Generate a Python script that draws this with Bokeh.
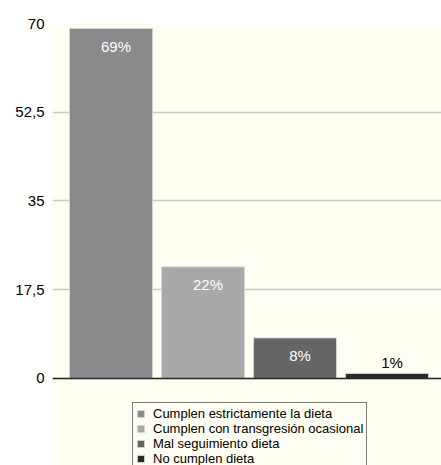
from bokeh.plotting import figure
from bokeh.models import ColumnDataSource, FixedTicker, Span, Legend, LegendItem, Range1d
from bokeh.core.properties import value
from bokeh.embed import file_html
from bokeh.resources import INLINE

categories = ["Cumplen estrictamente la dieta", "Cumplen con transgresión ocasional",
              "Mal seguimiento dieta", "No cumplen dieta"]
values = [69, 22, 8, 1]
labels = ["69%", "22%", "8%", "1%"]
colors = ["#8a8a8c", "#a9a9a9", "#656565", "#2a2a2a"]
tick_values = [0, 17.5, 35, 52.5, 70]
tick_labels = ["0", "17,5", "35", "52,5", "70"]

FONT = "Liberation Sans"
CREAM = "#fffef2"

xs = list(range(len(values)))
label_colors = ["white" if v > 5 else "black" for v in values]
label_offsets = [18 if v > 5 else -11 for v in values]

src = ColumnDataSource(dict(x=xs, top=values, color=colors, label=labels,
                            lc=label_colors, yo=label_offsets))

p = figure(width=441, height=465, output_backend="svg", toolbar_location=None,
           x_range=Range1d(-0.636, 3.592), y_range=Range1d(-17.16, 70),
           min_border_left=52, min_border_right=0, min_border_top=23, min_border_bottom=0,
           background_fill_color=CREAM, border_fill_color="white", outline_line_color=None)

p.xaxis.visible = False
p.xgrid.visible = False
p.yaxis.ticker = FixedTicker(ticks=tick_values)
p.yaxis.major_label_overrides = {t: l for t, l in zip(tick_values, tick_labels)}
p.yaxis.axis_line_color = None
p.yaxis.major_tick_line_color = None
p.yaxis.minor_tick_line_color = None
p.yaxis.major_tick_out = 0
p.yaxis.major_tick_in = 0
p.yaxis.major_label_standoff = 8
p.yaxis.major_label_text_font = FONT
p.yaxis.major_label_text_font_size = "15px"
p.yaxis.major_label_text_color = "black"
p.ygrid.grid_line_color = "#c8c8c4"
p.ygrid.grid_line_width = 1.5

r = p.vbar(x="x", top="top", bottom=0, width=0.902, fill_color="color",
           line_color="#d4d4d0", line_width=1, source=src)

p.add_layout(Span(location=0, dimension="width", line_color="#2a2a2a", line_width=1.5))

p.text(x="x", y="top", text="label", text_color="lc", y_offset="yo", x_offset=5,
       text_align="center", text_baseline="middle", text_font=value(FONT),
       text_font_size="15px", source=src)

items = [LegendItem(label=c, renderers=[r], index=i) for i, c in enumerate(categories)]
legend = Legend(items=items, location=(80, -5), orientation="vertical",
                glyph_width=9, glyph_height=9, label_height=15, label_standoff=8,
                spacing=0, padding=3, margin=0,
                label_text_font=FONT, label_text_font_size="13px",
                label_text_color="black", border_line_color="black", border_line_width=1,
                background_fill_color=CREAM, background_fill_alpha=1)
p.add_layout(legend, "center")

open("out.html", "w").write(file_html(p, INLINE))
